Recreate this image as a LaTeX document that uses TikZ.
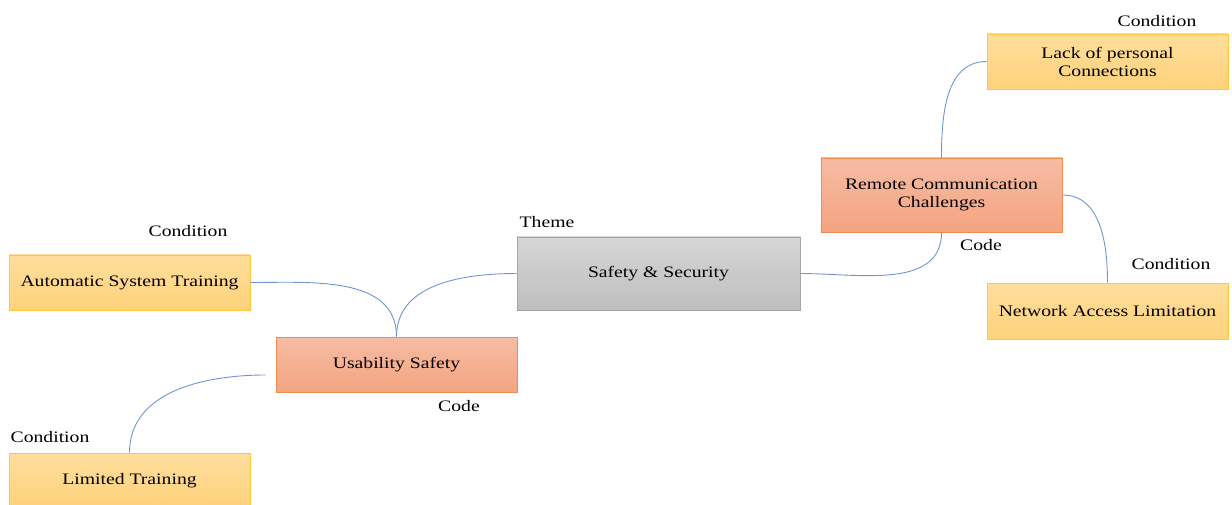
\documentclass[tikz,border=0pt]{standalone}
\usepackage{fontspec}
\setmainfont{Liberation Serif}[FakeStretch=1.23]
\definecolor{linkblue}{HTML}{7096D2}
\definecolor{grayT}{HTML}{D6D6D6}
\definecolor{grayB}{HTML}{BEBEBE}
\definecolor{grayD}{HTML}{A6A6A6}
\definecolor{orT}{HTML}{F6BCA4}
\definecolor{orB}{HTML}{F4A480}
\definecolor{orD}{HTML}{F28B50}
\definecolor{yeT}{HTML}{FFDE9C}
\definecolor{yeB}{HTML}{FED27A}
\definecolor{yeD}{HTML}{FFC83A}
\begin{document}
\begin{tikzpicture}[x=1pt,y=-1pt,
  every node/.style={font=\fontsize{16}{18}\selectfont, text=black},
  box/.style={rectangle, inner sep=0pt, align=center, line width=0.8pt},
  themebox/.style={box, draw=grayD, top color=grayT, bottom color=grayB},
  codebox/.style={box, draw=orD, top color=orT, bottom color=orB},
  condbox/.style={box, draw=yeD, top color=yeT, bottom color=yeB},
  lbl/.style={inner sep=0pt},
  link/.style={draw=linkblue, line width=0.9pt}]
\useasboundingbox (0,0) rectangle (1232,505);
% boxes
\node[themebox, minimum width=283pt, minimum height=73pt] (theme) at (658.5,273.5) {Safety \& Security};
\node[codebox, minimum width=241pt, minimum height=74pt] (rcc) at (941.5,195) {Remote Communication\\Challenges};
\node[condbox, minimum width=241pt, minimum height=55pt] (lack) at (1107.5,61.5) {Lack of personal\\Connections};
\node[condbox, minimum width=241pt, minimum height=56pt] (net) at (1107.5,311) {Network Access Limitation};
\node[condbox, minimum width=241pt, minimum height=55pt] (auto) at (129.5,282.5) {Automatic System Training};
\node[codebox, minimum width=241pt, minimum height=55pt] (usab) at (396.5,364.5) {Usability Safety};
\node[condbox, minimum width=241pt, minimum height=56pt] (lim) at (129.5,481) {Limited Training};
% labels
\node[lbl] (ltheme) at (547,222) {Theme};
\node[lbl] (lrcc) at (981,245) {Code};
\node[lbl] (llack) at (1157,21) {Condition};
\node[lbl] (lnet) at (1171,264) {Condition};
\node[lbl] (lauto) at (188,231) {Condition};
\node[lbl] (lusab) at (459,406) {Code};
\node[lbl] (llim) at (50,437) {Condition};
% connectors
\coordinate (ustart) at ([xshift=-10pt,yshift=-10.5pt]usab.west);
\draw[link] (theme.west) to[out=180,in=90] (usab.north);
\draw[link] (auto.east) to[out=0,in=90] (usab.north);
\draw[link] (ustart) to[out=180,in=90] (lim.north);
\draw[link] (theme.east) to[out=0,in=-90] (rcc.south);
\draw[link] (rcc.north) to[out=90,in=180] (lack.west);
\draw[link] (rcc.east) to[out=0,in=90] (net.north);
\end{tikzpicture}
\end{document}
